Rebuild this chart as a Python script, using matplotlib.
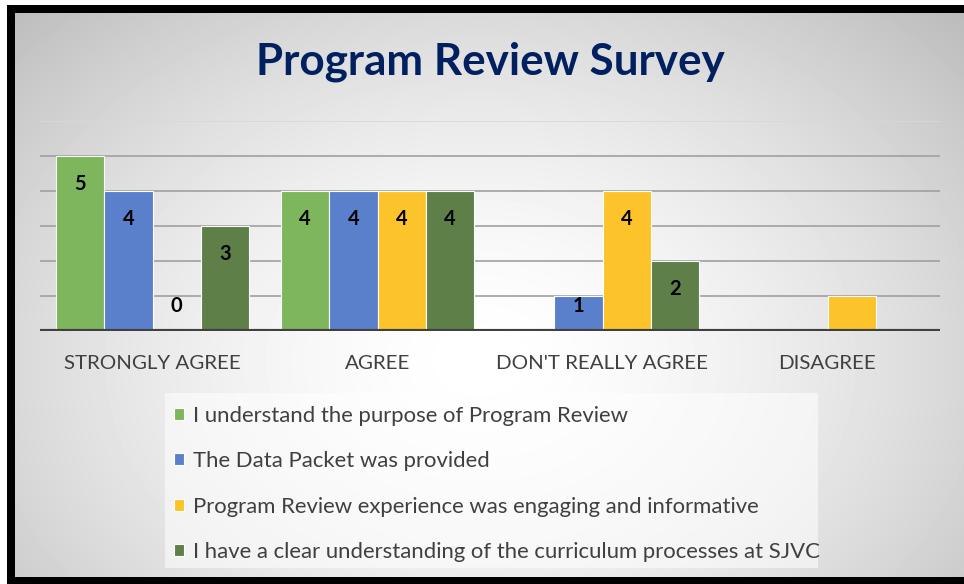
import numpy as np
import matplotlib
matplotlib.use("Agg")
import matplotlib.pyplot as plt
from matplotlib.patches import Rectangle

# ---------------- data ----------------
title = "Program Review Survey"
categories = ["STRONGLY AGREE", "AGREE", "DON'T REALLY AGREE", "DISAGREE"]
series_names = [
    "I understand the purpose of Program Review",
    "The Data Packet was provided",
    "Program Review experience was engaging and informative",
    "I have a clear understanding of the curriculum processes at SJVC",
]
understand_purpose = [5, 4, np.nan, np.nan]
data_packet = [4, 4, 1, np.nan]
engaging = [0, 4, 4, 1]
curriculum = [3, 4, 2, np.nan]
label_shown = [
    [True, True, False, False],
    [True, True, True, False],
    [True, True, True, False],
    [True, True, True, False],
]
colors = ["#7DB65C", "#5B80CB", "#FCC42A", "#5E7F47"]
series = [understand_purpose, data_packet, engaging, curriculum]

W, H = 964, 584
fig = plt.figure(figsize=(W / 100, H / 100), dpi=100)
renderer = fig.canvas.get_renderer()
FONT = "Lato"


def fx(x):
    return x / W


def fy(y):
    return 1 - y / H


def size_for(text, target_px, weight="normal"):
    t = fig.text(0, 0, text, fontsize=10, fontweight=weight, family=FONT)
    w = t.get_window_extent(renderer).width
    t.remove()
    return 10 * target_px / w


# ---------------- background ----------------
bg = fig.add_axes([0, 0, 1, 1], zorder=-10)
yy, xx = np.mgrid[0:H, 0:W]
r = np.sqrt(((xx - 480) / 560) ** 2 + ((yy - 360) / 420) ** 2)
val = np.clip(1.0 - 0.2 * r ** 1.6, 0, 1)
bg.imshow(val, cmap="gray", vmin=0, vmax=1, extent=[0, W, H, 0],
          aspect="auto", interpolation="bilinear")
bg.set_xlim(0, W)
bg.set_ylim(H, 0)
bg.axis("off")
# outer white margins and black frame
bg.add_patch(Rectangle((0, 0), 7, H, color="white", lw=0))
bg.add_patch(Rectangle((0, 0), W, 5, color="white", lw=0))
bg.add_patch(Rectangle((7, 5), 8, H - 5, color="black", lw=0))
bg.add_patch(Rectangle((7, 5), W - 7, 8, color="black", lw=0))
bg.add_patch(Rectangle((7, 577), W - 7, 7, color="black", lw=0))
# legend panel
bg.add_patch(Rectangle((165, 393), 653, 175, facecolor="white", alpha=0.55, lw=0))

# ---------------- title ----------------
fig.text(fx(490), fy(62), title, ha="center", va="center",
         fontsize=size_for(title, 470, "bold"), fontweight="bold",
         color="#002060", family=FONT)

# ---------------- plot ----------------
ax = fig.add_axes([fx(40), fy(331), 900 / W, 210 / H])
ax.patch.set_alpha(0)
x = np.arange(len(categories))
width = 0.215
offsets = [-1.5, -0.5, 0.5, 1.5]
handles = []
label_size = 14.5
for i, (vals, col) in enumerate(zip(series, colors)):
    bars = ax.bar(x + offsets[i] * width, vals, width, color=col,
                  edgecolor="white", linewidth=0.8, zorder=3,
                  label=series_names[i])
    handles.append(bars)
    for j, v in enumerate(vals):
        if label_shown[i][j] and not np.isnan(v):
            ax.text(x[j] + offsets[i] * width, max(v - 0.8, 0.71), f"{int(v)}",
                    ha="center", va="center", fontweight="bold",
                    fontsize=label_size, color="black", family=FONT, zorder=4)

ax.set_xlim(-0.5, len(categories) - 0.5)
ax.set_ylim(0, 6)
ax.set_yticks(range(1, 7))
ax.yaxis.grid(True, color="#A0A0A0", linewidth=1.2, zorder=0)
ax.get_ygridlines()[-1].set_color("#D8D8D8")
ax.set_yticklabels([])
ax.tick_params(axis="y", length=0)
ax.axhline(0, color="#404040", linewidth=3, zorder=5)
for s in ax.spines.values():
    s.set_visible(False)
ax.set_xticks(x)
cat_size = size_for("STRONGLY AGREE", 175)
ax.set_xticklabels(categories, fontsize=cat_size, color="#404040", family=FONT)
ax.tick_params(axis="x", length=0, pad=17)

# ---------------- legend ----------------
leg_size = size_for(series_names[0], 437)
fpx = leg_size * 100 / 72
leg = fig.legend(handles=handles, labels=series_names, loc="center left",
                 bbox_to_anchor=(fx(174), fy(484)), frameon=False,
                 fontsize=leg_size, handlelength=10 / fpx, handleheight=10 / fpx,
                 handletextpad=9 / fpx, borderpad=0, borderaxespad=0,
                 labelspacing=(53 - 1.25 * fpx) / fpx,
                 prop={"family": FONT, "size": leg_size})
for t in leg.get_texts():
    t.set_color("#404040")

fig.savefig("out.png", dpi=100)
